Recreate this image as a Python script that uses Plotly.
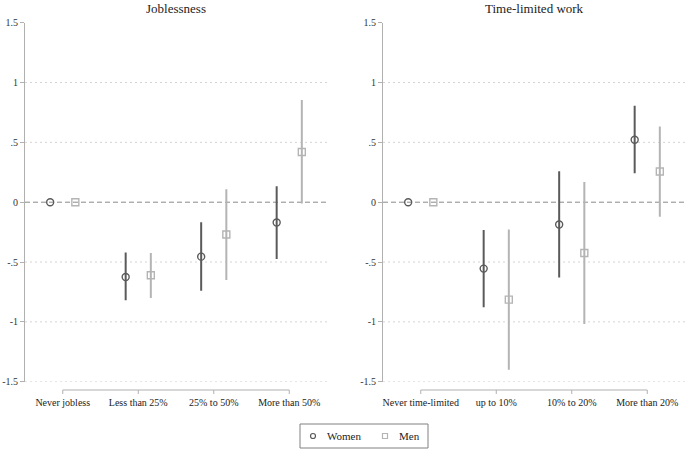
import plotly.graph_objects as go

# ---- data ----
job_cats = ["Never jobless", "Less than 25%", "25% to 50%", "More than 50%"]
job_women = [0.0, -0.625, -0.455, -0.17]
job_women_lo = [0.0, -0.82, -0.74, -0.475]
job_women_hi = [0.0, -0.42, -0.167, 0.133]
job_men = [0.0, -0.61, -0.27, 0.42]
job_men_lo = [0.0, -0.80, -0.65, -0.01]
job_men_hi = [0.0, -0.425, 0.108, 0.855]

tl_cats = ["Never time-limited", "up to 10%", "10% to 20%", "More than 20%"]
tl_women = [0.0, -0.555, -0.186, 0.522]
tl_women_lo = [0.0, -0.878, -0.63, 0.242]
tl_women_hi = [0.0, -0.233, 0.258, 0.806]
tl_men = [0.0, -0.814, -0.425, 0.256]
tl_men_lo = [0.0, -1.40, -1.017, -0.122]
tl_men_hi = [0.0, -0.228, 0.169, 0.633]

y_ticks = [-1.5, -1, -0.5, 0, 0.5, 1, 1.5]
y_ticktext = ["-1.5", "-1", "-.5", "0", ".5", "1", "1.5"]

titles = ["Joblessness", "Time-limited work"]
legend_names = ["Women", "Men"]

# ---- style ----
FONT = "Liberation Serif"
W_COL = "#5a5a5a"
M_COL = "#b4b4b4"
AX_COL = "#b0b0b0"
W, H = 685, 450
OFF = 1 / 6

fig = go.Figure()

panels = [
    ("x", "y", job_cats, job_women, job_women_lo, job_women_hi, job_men, job_men_lo, job_men_hi),
    ("x2", "y2", tl_cats, tl_women, tl_women_lo, tl_women_hi, tl_men, tl_men_lo, tl_men_hi),
]

for xa, ya, cats, wv, wlo, whi, mv, mlo, mhi in panels:
    idx = list(range(len(cats)))
    for name, vals, lo, hi, col, sym, sign in [
        (legend_names[0], wv, wlo, whi, W_COL, "circle-open", -1),
        (legend_names[1], mv, mlo, mhi, M_COL, "square-open", 1),
    ]:
        fig.add_trace(go.Scatter(
            x=[i + sign * OFF for i in idx], y=vals, mode="markers", name=name,
            xaxis=xa, yaxis=ya, showlegend=False,
            marker=dict(symbol=sym, size=7, color=col, line=dict(width=1.4, color=col)),
            error_y=dict(type="data", symmetric=False,
                         array=[h - v for h, v in zip(hi, vals)],
                         arrayminus=[v - l for v, l in zip(vals, lo)],
                         color=col, thickness=2, width=0),
        ))

y_dom = [1 - 381.7 / H, 1 - 22.7 / H]
x_doms = [[25 / W, 327 / W], [383 / W, 1.0]]

axis_common_y = dict(range=[-1.5, 1.5], domain=y_dom, tickvals=y_ticks, ticktext=y_ticktext,
                     showline=True, linecolor=AX_COL, linewidth=1, ticks="outside", ticklen=4,
                     tickcolor=AX_COL, showgrid=False, zeroline=False, automargin=False,
                     tickfont=dict(family=FONT, size=10, color="#333"))

for k, (cats, dom) in enumerate(zip([job_cats, tl_cats], x_doms)):
    xkey = "xaxis" if k == 0 else "xaxis2"
    ykey = "yaxis" if k == 0 else "yaxis2"
    fig.layout[xkey] = dict(range=[-0.5, 3.5], domain=dom, tickvals=list(range(len(cats))),
                            ticktext=cats, showline=False, showgrid=False, zeroline=False,
                            ticks="outside", ticklen=11, tickcolor="rgba(0,0,0,0)",
                            automargin=False,
                            tickfont=dict(family=FONT, size=10, color="#222"),
                            anchor="y" if k == 0 else "y2")
    fig.layout[ykey] = dict(axis_common_y, anchor="x" if k == 0 else "x2")

    xr = "x" if k == 0 else "x2"
    yr = "y" if k == 0 else "y2"
    # gridlines (dotted)
    for t in y_ticks:
        if t in (0, 1.5):
            continue
        fig.add_shape(type="line", xref=xr + " domain", yref=yr, x0=0, x1=1, y0=t, y1=t,
                      line=dict(color="#d4d4d4", width=1, dash="2px,3px"), layer="below")
    # dashed zero line
    fig.add_shape(type="line", xref=xr + " domain", yref=yr, x0=0, x1=1, y0=0, y1=0,
                  line=dict(color="#8a8a8a", width=1, dash="5px,3px"), layer="below")
    # category axis line and ticks (Stata style)
    y_line = 1 - 390 / H
    y_tick = 1 - 394 / H
    fig.add_shape(type="line", xref=xr, yref="paper", x0=0, x1=len(cats) - 1, y0=y_line, y1=y_line,
                  line=dict(color=AX_COL, width=1))
    for i in range(len(cats)):
        fig.add_shape(type="line", xref=xr, yref="paper", x0=i, x1=i, y0=y_line, y1=y_tick,
                      line=dict(color=AX_COL, width=1))
    # panel title
    fig.add_annotation(text=titles[k], xref="paper", yref="paper",
                       x=(dom[0] + dom[1]) / 2, y=1, yanchor="top", xanchor="center",
                       borderpad=0, showarrow=False, font=dict(family=FONT, size=13, color="#222"))

# ---- legend (Stata-style box below the panels) ----
def px(x):
    return x / W

def py(y):
    return 1 - y / H

fig.add_shape(type="rect", xref="paper", yref="paper", x0=px(300), x1=px(428), y0=py(448), y1=py(424),
              line=dict(color="#808080", width=1), fillcolor="white")
leg_y = 436
# circle symbol for Women
fig.add_shape(type="circle", xref="paper", yref="paper",
              x0=px(310.5), x1=px(315.5), y0=py(leg_y + 2.5), y1=py(leg_y - 2.5),
              line=dict(color=W_COL, width=1.2))
# square symbol for Men
fig.add_shape(type="rect", xref="paper", yref="paper",
              x0=px(382.5), x1=px(387.5), y0=py(leg_y + 2.5), y1=py(leg_y - 2.5),
              line=dict(color=M_COL, width=1.2))
for name, xpos in zip(legend_names, [325, 397]):
    fig.add_annotation(text=name, xref="paper", yref="paper", x=px(xpos), y=py(leg_y),
                       xanchor="left", yanchor="middle", showarrow=False,
                       font=dict(family=FONT, size=11, color="#222"))

fig.update_layout(
    width=W, height=H, margin=dict(l=0, r=0, t=0, b=0, autoexpand=False),
    paper_bgcolor="white", plot_bgcolor="white",
    showlegend=False,
)

fig.write_html("out.html", config={"displayModeBar": False},
               post_script="document.body.style.margin='0';document.body.style.padding='0';")
